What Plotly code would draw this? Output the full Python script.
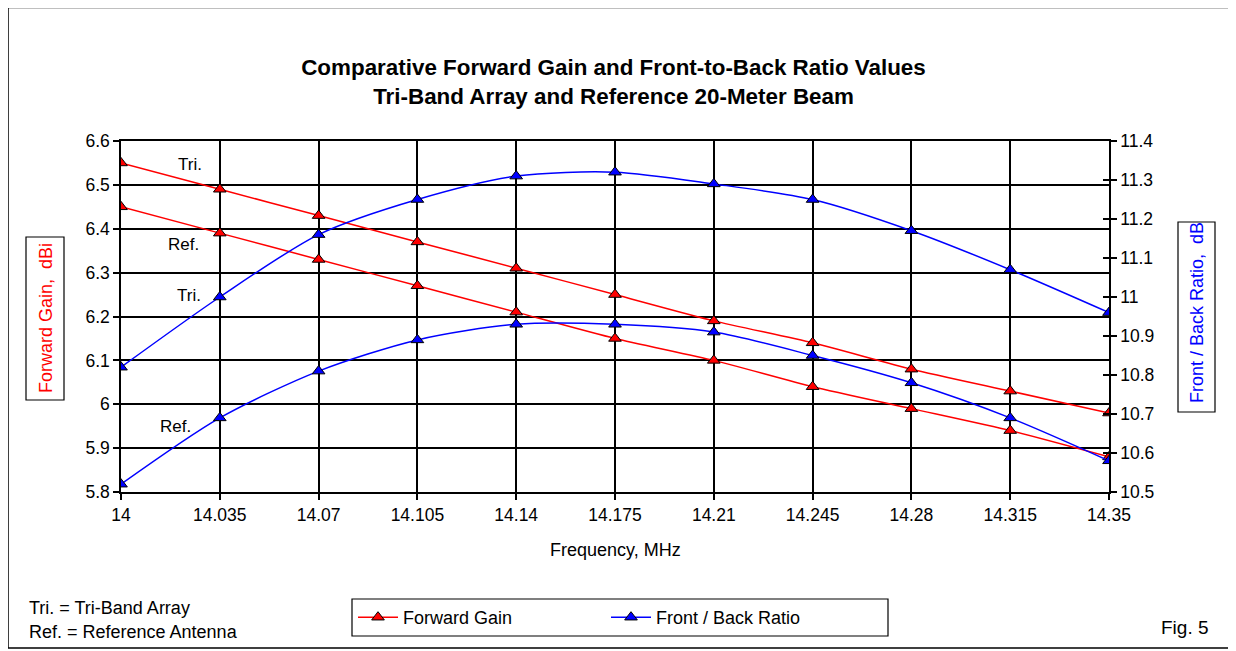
import plotly.graph_objects as go

# ---------------- data ----------------
freq = [14.0, 14.035, 14.07, 14.105, 14.14, 14.175, 14.21, 14.245, 14.28, 14.315, 14.35]
freq_labels = ["14", "14.035", "14.07", "14.105", "14.14", "14.175",
               "14.21", "14.245", "14.28", "14.315", "14.35"]
gain_tri = [6.55, 6.49, 6.43, 6.37, 6.31, 6.25, 6.19, 6.14, 6.08, 6.03, 5.98]
gain_ref = [6.45, 6.39, 6.33, 6.27, 6.21, 6.15, 6.10, 6.04, 5.99, 5.94, 5.88]
fb_tri = [10.82, 11.00, 11.16, 11.25, 11.31, 11.32, 11.29, 11.25, 11.17, 11.07, 10.96]
fb_ref = [10.52, 10.69, 10.81, 10.89, 10.93, 10.93, 10.91, 10.85, 10.78, 10.69, 10.58]
gain_ticks = [5.8, 5.9, 6.0, 6.1, 6.2, 6.3, 6.4, 6.5, 6.6]
gain_tick_labels = ["5.8", "5.9", "6", "6.1", "6.2", "6.3", "6.4", "6.5", "6.6"]
fb_ticks = [10.5, 10.6, 10.7, 10.8, 10.9, 11.0, 11.1, 11.2, 11.3, 11.4]
fb_tick_labels = ["10.5", "10.6", "10.7", "10.8", "10.9", "11", "11.1", "11.2", "11.3", "11.4"]

# ---------------- layout geometry ----------------
# the page body adds an 8 px offset, so the figure is 8 px smaller and
# positions below are given in screen pixels and shifted by OFF
OFF = 8
W, H = 1236 - OFF, 651 - OFF
ML = 121 - OFF
MT = 141 - OFF
MR = W - (1109 - OFF)
MB = H - (492 - OFF)
PW, PH = W - ML - MR, H - MT - MB


def px(x):
    return (x - OFF - ML) / PW


def py(y):
    return (H - MB - (y - OFF)) / PH


FONT = "Liberation Sans, Arial, sans-serif"
RED = "#FF0000"
BLUE = "#0000FF"

fig = go.Figure()

gain_marker = dict(symbol="triangle-up", size=11, color=RED, line=dict(color="black", width=1))
fb_marker = dict(symbol="triangle-up", size=11, color=BLUE, line=dict(color="black", width=1))

fig.add_trace(go.Scatter(x=freq, y=gain_tri, mode="lines+markers", name="Forward Gain",
                         legendgroup="gain", showlegend=True,
                         line=dict(color=RED, width=1.5, shape="spline", smoothing=0.6),
                         marker=gain_marker, yaxis="y"))
fig.add_trace(go.Scatter(x=freq, y=gain_ref, mode="lines+markers", name="Forward Gain",
                         legendgroup="gain", showlegend=False,
                         line=dict(color=RED, width=1.5, shape="spline", smoothing=0.6),
                         marker=gain_marker, yaxis="y"))
fig.add_trace(go.Scatter(x=freq, y=fb_tri, mode="lines+markers", name="Front / Back Ratio",
                         legendgroup="fb", showlegend=True,
                         line=dict(color=BLUE, width=1.5, shape="spline", smoothing=0.8),
                         marker=fb_marker, yaxis="y2"))
fig.add_trace(go.Scatter(x=freq, y=fb_ref, mode="lines+markers", name="Front / Back Ratio",
                         legendgroup="fb", showlegend=False,
                         line=dict(color=BLUE, width=1.5, shape="spline", smoothing=0.8),
                         marker=fb_marker, yaxis="y2"))
# carrier for the inside half of the right-axis cross ticks
fig.add_trace(go.Scatter(x=[None], y=[None], yaxis="y3", showlegend=False, hoverinfo="skip"))

axis_font = dict(family=FONT, size=17.5, color="black")

fig.update_layout(
    width=W, height=H,
    margin=dict(l=ML, r=MR, t=MT, b=MB),
    paper_bgcolor="white", plot_bgcolor="white",
    font=dict(family=FONT, size=18, color="black"),
    title=dict(text="<b>Comparative Forward Gain and Front-to-Back Ratio Values<br>"
                    "Tri-Band Array and Reference 20-Meter Beam</b>",
               font=dict(family=FONT, size=22.4, color="black"),
               x=(613.5 - OFF) / W, xanchor="center", xref="container",
               y=1 - (74.5 - OFF) / H, yanchor="middle", yref="container"),
    xaxis=dict(range=[14.0, 14.35], tickvals=freq, ticktext=freq_labels,
               showgrid=True, gridcolor="black", gridwidth=1.5,
               showline=True, linecolor="black", linewidth=1.5, mirror=True,
               ticks="outside", ticklen=6, tickcolor="black", tickwidth=1.5,
               tickfont=axis_font, zeroline=False),
    yaxis=dict(range=[5.8, 6.6], tickvals=gain_ticks, ticktext=gain_tick_labels,
               showgrid=True, gridcolor="black", gridwidth=1.5,
               showline=True, linecolor="black", linewidth=1.5,
               ticks="outside", ticklen=6, tickcolor="black", tickwidth=1.5,
               tickfont=axis_font, zeroline=False),
    yaxis2=dict(range=[10.5, 11.4], tickvals=fb_ticks, ticktext=fb_tick_labels,
                overlaying="y", side="right", anchor="x",
                showgrid=False, showline=True, linecolor="black", linewidth=1.5,
                ticks="outside", ticklen=6, tickcolor="black", tickwidth=1.5,
                tickfont=axis_font, zeroline=False),
    yaxis3=dict(range=[10.5, 11.4], tickvals=fb_ticks, overlaying="y", side="right", anchor="x",
                showgrid=False, showline=False, showticklabels=False,
                ticks="inside", ticklen=6, tickcolor="black", tickwidth=1.5, zeroline=False),
    legend=dict(orientation="h", x=px(353), xanchor="left", y=py(617.5), yanchor="middle",
                bgcolor="rgba(0,0,0,0)", borderwidth=0,
                font=dict(family=FONT, size=18, color="black"),
                entrywidth=198, entrywidthmode="pixels", itemwidth=40),
    showlegend=True,
)

shapes = [
    # outer chart border
    dict(type="rect", xref="paper", yref="paper", x0=px(8), x1=px(1232), y0=py(7.5), y1=py(648),
         line=dict(color="black", width=1.5), layer="below"),
    dict(type="line", xref="paper", yref="paper", x0=px(1234), x1=px(1234), y0=py(9), y1=py(651),
         line=dict(color="black", width=4)),
    # axis title boxes
    dict(type="rect", xref="paper", yref="paper", x0=px(26), x1=px(64), y0=py(237), y1=py(400),
         line=dict(color="black", width=1.2)),
    dict(type="rect", xref="paper", yref="paper", x0=px(1178), x1=px(1215), y0=py(222), y1=py(412),
         line=dict(color="black", width=1.2)),
    # legend box
    dict(type="rect", xref="paper", yref="paper", x0=px(352), x1=px(888), y0=py(599), y1=py(636),
         line=dict(color="black", width=1.2)),
]
fig.update_layout(shapes=shapes)

NB = "\u00a0"
ann = [
    dict(text="Forward Gain," + NB + NB + "dBi", x=px(46), y=py(318), textangle=-90,
         font=dict(family=FONT, size=18, color=RED)),
    dict(text="Front / Back Ratio," + NB + NB + "dB", x=px(1197), y=py(313), textangle=-90,
         font=dict(family=FONT, size=18, color=BLUE)),
    dict(text="Frequency, MHz", x=px(615.5), y=py(550), font=dict(family=FONT, size=18, color="black")),
    dict(text="Tri. = Tri-Band Array", x=px(27), y=py(608), xanchor="left",
         font=dict(family=FONT, size=18, color="black")),
    dict(text="Ref. = Reference Antenna", x=px(27), y=py(631.5), xanchor="left",
         font=dict(family=FONT, size=18, color="black")),
    dict(text="Fig. 5", x=px(1211), y=py(627), xanchor="right",
         font=dict(family=FONT, size=19, color="black")),
    # series labels
    dict(text="Tri.", x=px(190), y=py(164.5), font=dict(family=FONT, size=17, color="black")),
    dict(text="Ref.", x=px(183.5), y=py(244.5), font=dict(family=FONT, size=17, color="black")),
    dict(text="Tri.", x=px(188.5), y=py(295.5), font=dict(family=FONT, size=17, color="black")),
    dict(text="Ref.", x=px(175), y=py(426.7), font=dict(family=FONT, size=17, color="black")),
]
for a in ann:
    a.setdefault("xanchor", "center")
    a.update(xref="paper", yref="paper", showarrow=False, yanchor="middle")
fig.update_layout(annotations=ann)

fig.write_html("out.html")
